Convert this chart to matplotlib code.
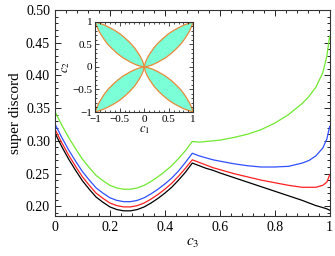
import numpy as np
import matplotlib
matplotlib.use("Agg")
import matplotlib.pyplot as plt
from matplotlib.ticker import MultipleLocator, FormatStrFormatter

plt.rcParams['font.family'] = ['Liberation Serif', 'DejaVu Serif']
plt.rcParams['mathtext.fontset'] = 'stix'

# ---- data ----
c3 = [0.0, 0.025, 0.05, 0.075, 0.1, 0.125, 0.15, 0.175, 0.2, 0.225, 0.25,
      0.275, 0.3, 0.325, 0.35, 0.375, 0.4, 0.425, 0.45, 0.475, 0.5,
      0.525, 0.55, 0.575, 0.6, 0.65, 0.7, 0.75, 0.8, 0.85, 0.9,
      0.925, 0.95, 0.975, 0.99, 1.0]

green = [0.345, 0.324, 0.305, 0.288, 0.272, 0.259, 0.247, 0.239, 0.232, 0.228, 0.226,
         0.226, 0.228, 0.232, 0.238, 0.245, 0.253, 0.262, 0.273, 0.285, 0.299,
         0.298, 0.299, 0.300, 0.301, 0.305, 0.310, 0.317, 0.327, 0.340, 0.357,
         0.368, 0.382, 0.404, 0.430, 0.460]
blue = [0.326, 0.305, 0.286, 0.269, 0.253, 0.240, 0.228, 0.220, 0.213, 0.209, 0.207,
        0.207, 0.209, 0.213, 0.219, 0.226, 0.234, 0.243, 0.254, 0.267, 0.281,
        0.277, 0.274, 0.271, 0.269, 0.265, 0.262, 0.260, 0.260, 0.261, 0.266,
        0.270, 0.277, 0.289, 0.303, 0.322]
red = [0.318, 0.297, 0.278, 0.261, 0.245, 0.232, 0.220, 0.212, 0.205, 0.201, 0.199,
       0.199, 0.201, 0.205, 0.211, 0.218, 0.226, 0.235, 0.246, 0.258, 0.271,
       0.267, 0.263, 0.259, 0.256, 0.250, 0.245, 0.240, 0.236, 0.232, 0.229,
       0.229, 0.229, 0.232, 0.237, 0.248]
black = [0.312, 0.291, 0.272, 0.255, 0.239, 0.226, 0.214, 0.206, 0.199, 0.195, 0.193,
         0.193, 0.195, 0.199, 0.205, 0.212, 0.220, 0.229, 0.240, 0.252, 0.266,
         0.262, 0.258, 0.255, 0.251, 0.244, 0.237, 0.230, 0.223, 0.216, 0.209,
         0.205, 0.201, 0.198, 0.196, 0.194]

# inset: one petal edge in the first quadrant (other edge is its mirror)
petal_c1 = [0.0, 0.02, 0.05, 0.1, 0.2, 0.3, 0.4, 0.5, 0.6, 0.7, 0.8, 0.9, 1.0]
petal_c2 = [0.0, 0.09, 0.17, 0.27, 0.43, 0.55, 0.65, 0.74, 0.81, 0.87, 0.925, 0.965, 1.0]


def tick_fmt(v, pos):
    if abs(v) < 1e-9:
        return '0'
    if abs(v - 1) < 1e-9:
        return '1'
    return f'{v:.1f}'


# ---- figure ----
fig = plt.figure(figsize=(3.35, 2.56), dpi=100)
ax = fig.add_axes([0.164, 0.156, 0.820, 0.805])

ax.plot(c3, black, color='black', lw=0.9)
ax.plot(c3, red, color='#ff2020', lw=0.9)
ax.plot(c3, blue, color='#3050ff', lw=0.9)
ax.plot(c3, green, color='#70e830', lw=0.9)

ax.set_xlim(0, 1)
ax.set_ylim(0.185, 0.50)
ax.xaxis.set_major_locator(MultipleLocator(0.2))
ax.xaxis.set_minor_locator(MultipleLocator(0.04))
ax.yaxis.set_major_locator(MultipleLocator(0.05))
ax.yaxis.set_minor_locator(MultipleLocator(0.01))
ax.yaxis.set_major_formatter(FormatStrFormatter('%.2f'))
ax.xaxis.set_major_formatter(plt.FuncFormatter(tick_fmt))
ax.tick_params(which='both', direction='in', top=True, right=True, labelsize=10, width=0.6)
ax.tick_params(which='major', length=4)
ax.tick_params(which='minor', length=2)
for s in ax.spines.values():
    s.set_linewidth(0.8)
    s.set_color('#333333')
ax.set_xlabel(r'$c_3$', fontsize=11, labelpad=2)
ax.set_ylabel('super discord', fontsize=11, labelpad=3)

# ---- inset ----
ins = fig.add_axes([0.284, 0.5625, 0.293, 0.352])
pc1 = np.array(petal_c1)
pc2 = np.array(petal_c2)
for sx in (1, -1):
    for sy in (1, -1):
        xs = np.concatenate([pc1, pc2[::-1]]) * sx
        ys = np.concatenate([pc2, pc1[::-1]]) * sy
        ins.fill(xs, ys, facecolor='#7affd6', edgecolor='#e8893a', lw=0.9)
ins.set_xlim(-1, 1)
ins.set_ylim(-1, 1)
ins.set_xticks([-1, -0.5, 0, 0.5, 1])
ins.set_yticks([-1, -0.5, 0, 0.5, 1])
ins.set_xticklabels(['\u22121', '\u22120.5', '0', '0.5', '1'])
ins.set_yticklabels(['\u22121', '\u22120.5', '0', '0.5', '1'])
ins.xaxis.set_minor_locator(MultipleLocator(0.1))
ins.yaxis.set_minor_locator(MultipleLocator(0.1))
ins.tick_params(which='both', direction='in', top=True, right=True, labelsize=8, width=0.5, pad=2)
ins.tick_params(which='major', length=3)
ins.tick_params(which='minor', length=1.5)
for s in ins.spines.values():
    s.set_linewidth(0.8)
    s.set_color('#333333')
ins.set_xlabel(r'$c_1$', fontsize=9, labelpad=0)
ins.set_ylabel(r'$c_2$', fontsize=9, labelpad=0)

fig.savefig('out.png', dpi=100)
